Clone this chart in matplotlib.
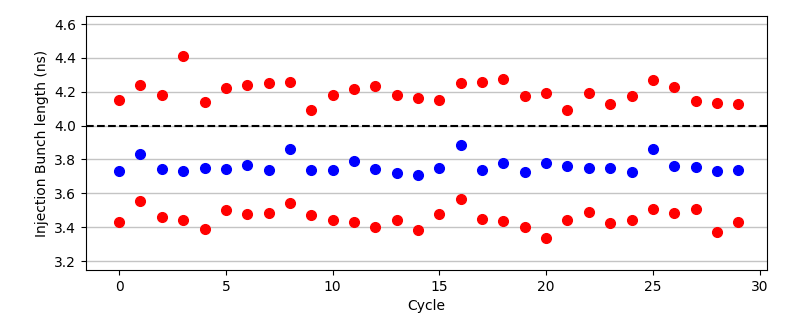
import numpy as np
import matplotlib.pyplot as plt

# Data
cycle = np.arange(30)

upper = [4.15, 4.24, 4.18, 4.41, 4.14, 4.22, 4.24, 4.25, 4.255, 4.09,
         4.18, 4.215, 4.235, 4.18, 4.165, 4.15, 4.25, 4.26, 4.275, 4.175,
         4.195, 4.09, 4.195, 4.13, 4.175, 4.27, 4.23, 4.145, 4.135, 4.125]

mean = [3.73, 3.83, 3.745, 3.73, 3.75, 3.745, 3.77, 3.74, 3.86, 3.74,
        3.74, 3.79, 3.745, 3.72, 3.71, 3.75, 3.885, 3.735, 3.78, 3.725,
        3.78, 3.76, 3.75, 3.75, 3.725, 3.86, 3.76, 3.755, 3.73, 3.735]

lower = [3.43, 3.555, 3.46, 3.44, 3.39, 3.50, 3.48, 3.485, 3.54, 3.47,
         3.445, 3.43, 3.40, 3.44, 3.385, 3.48, 3.565, 3.45, 3.435, 3.40,
         3.335, 3.445, 3.49, 3.425, 3.445, 3.51, 3.485, 3.505, 3.37, 3.43]

limit = 4.0

fig = plt.figure(figsize=(7.92, 3.22), dpi=100)
ax = fig.add_axes([0.1086, 0.1615, 0.8594, 0.7885])

ax.plot(cycle, upper, 'o', color='red', ms=7)
ax.plot(cycle, mean, 'o', color='blue', ms=7)
ax.plot(cycle, lower, 'o', color='red', ms=7)
ax.axhline(limit, color='black', linestyle='--', linewidth=1.5)

ax.set_ylim(3.147, 4.647)
ax.set_xlim(-1.55, 30.33)
ax.set_xticks([0, 5, 10, 15, 20, 25, 30])
ax.grid(axis='y', color='#c4c4c4', linewidth=1.0)
ax.set_axisbelow(True)

ax.set_xlabel('Cycle')
ax.set_ylabel('Injection Bunch length (ns)')

fig.savefig('out.png', dpi=100)
